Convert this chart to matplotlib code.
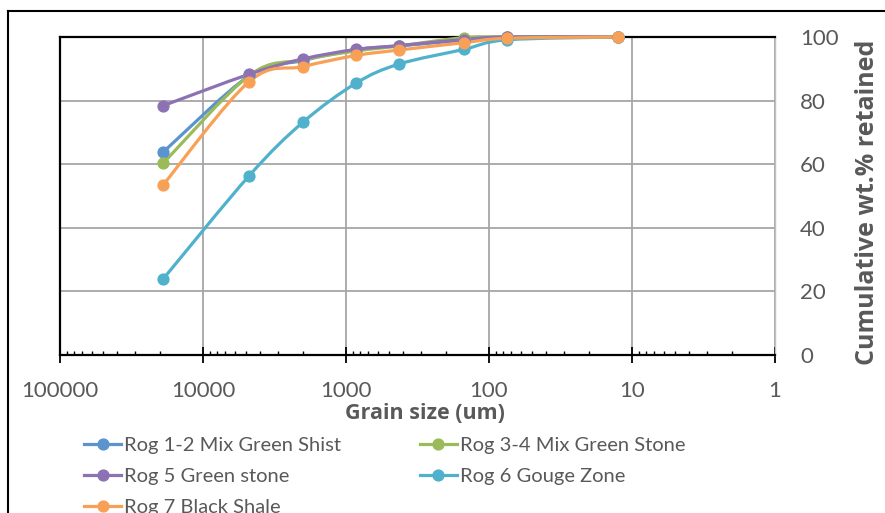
import numpy as np
import matplotlib
matplotlib.use("Agg")
import matplotlib.pyplot as plt
from matplotlib.path import Path
from matplotlib.patches import PathPatch
from matplotlib.lines import Line2D

plt.rcParams['font.family'] = ['Lato', 'DejaVu Sans']

# grain size (um) and cumulative wt.% retained
sizes = [19000, 4750, 2000, 850, 425, 150, 75, 12.5]
rog12 = [63.8, 87.8, 92.6, 96.0, 97.2, 99.0, 100, 100]
rog34 = [60.3, 87.9, 92.8, 95.6, 97.2, 99.8, 100, 100]
rog5 = [78.4, 88.3, 93.1, 96.1, 97.3, 99.2, 100, 100]
rog6 = [23.9, 56.4, 73.2, 85.5, 91.5, 96.1, 99.1, 100]
rog7 = [53.5, 86.0, 90.7, 94.2, 95.9, 98.2, 99.6, 100]

names = ['Rog 1-2 Mix Green Shist', 'Rog 3-4 Mix Green Stone', 'Rog 5 Green stone',
         'Rog 6 Gouge Zone', 'Rog 7 Black Shale']
series = [rog12, rog34, rog5, rog6, rog7]
colors = ['#5B93CF', '#9BBB59', '#8C72B2', '#4FB1CC', '#F9A057']


def smooth_path(xs, ys):
    # excel-like smoothed line: catmull-rom bezier in log(x) space
    lx = np.log10(xs)
    y = np.asarray(ys, float)
    n = len(lx)
    verts = [(xs[0], y[0])]
    codes = [Path.MOVETO]
    for i in range(n - 1):
        i0 = max(i - 1, 0)
        i3 = min(i + 2, n - 1)
        c1 = (lx[i] + (lx[i + 1] - lx[i0]) / 6, y[i] + (y[i + 1] - y[i0]) / 6)
        c2 = (lx[i + 1] - (lx[i3] - lx[i]) / 6, y[i + 1] - (y[i3] - y[i]) / 6)
        verts += [(10 ** c1[0], c1[1]), (10 ** c2[0], c2[1]), (xs[i + 1], y[i + 1])]
        codes += [Path.CURVE4] * 3
    return Path(verts, codes)


fig = plt.figure(figsize=(8.85, 5.13), dpi=100)
ax = fig.add_axes([60 / 885, 1 - 355 / 513, 715 / 885, 318 / 513])

handles = []
for name, vals, c in zip(names, series, colors):
    ax.add_patch(PathPatch(smooth_path(sizes, vals), fill=False, edgecolor=c,
                           lw=2.3, zorder=3, clip_on=False))
    ax.plot(sizes, vals, 'o', color=c, ms=7.8, zorder=4, clip_on=False)
    handles.append(Line2D([], [], color=c, lw=2.3, marker='o', ms=7.8))

ax.set_xscale('log')
ax.set_xlim(100000, 1)
ax.set_ylim(0, 100)
ax.set_xticks([100000, 10000, 1000, 100, 10, 1])
ax.set_xticklabels(['100000', '10000', '1000', '100', '10', '1'])
ax.set_yticks([0, 20, 40, 60, 80, 100])

ax.grid(True, which='major', color='#A6A6A6', lw=1.3)
ax.set_axisbelow(True)

for s in ['left', 'top', 'bottom']:
    ax.spines[s].set_color('black')
    ax.spines[s].set_linewidth(1.6)
ax.spines['right'].set_color('#BFBFBF')
ax.spines['right'].set_linewidth(1.0)

ax.yaxis.tick_right()
ax.yaxis.set_label_position('right')
ax.tick_params(axis='y', length=0, pad=18, labelsize=16, labelcolor='#595959')
ax.tick_params(axis='x', which='major', direction='inout', length=11, width=1.3,
               pad=13, labelsize=16, labelcolor='#595959')
ax.tick_params(axis='x', which='minor', direction='in', length=3, width=1.0)

bold_font = ['Open Sans', 'DejaVu Sans']
ax.set_xlabel('Grain size (um)', fontsize=15.5, fontweight='bold', color='#595959',
              family=bold_font, labelpad=2)
ax.set_ylabel('Cumulative wt.% retained', fontsize=18, fontweight='bold', color='#595959',
              family=bold_font, labelpad=12)
ax.xaxis.label.set_x(0.51)
ax.yaxis.label.set_y(0.48)

order = [0, 2, 4, 1, 3]
fig.legend([handles[i] for i in order], [names[i] for i in order], ncol=2,
           loc='upper left', bbox_to_anchor=(84 / 885, 1 - 437 / 513), frameon=False,
           fontsize=14.5, labelcolor='#595959', handlelength=1.85, handletextpad=0.15,
           labelspacing=0.7, columnspacing=3.9, borderpad=0, borderaxespad=0)

# outer chart border (cut off at right and bottom, as in the original)
fig.add_artist(Line2D([8 / 885, 8 / 885], [0, 1 - 11 / 513], color='black', lw=1.5,
                      transform=fig.transFigure))
fig.add_artist(Line2D([8 / 885, 1], [1 - 11 / 513, 1 - 11 / 513], color='black', lw=1.5,
                      transform=fig.transFigure))

fig.savefig('out.png', dpi=100)
